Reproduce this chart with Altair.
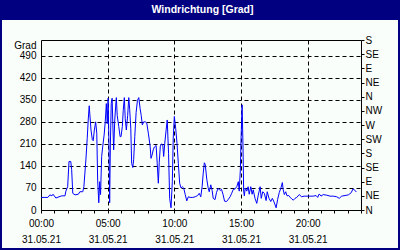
import altair as alt
import pandas as pd

# ---- data (time in minutes after midnight, direction in degrees)
minutes = [0, 14, 31, 40, 49, 54, 67, 81, 94, 108, 112, 120, 126, 134, 138, 143, 153, 168, 175, 188,
           193, 202, 208, 213, 217, 220, 225, 231, 235, 240, 246, 251, 255, 260, 264, 268, 273, 278, 284, 289,
           294, 298, 302, 306, 309, 312, 316, 320, 324, 327, 332, 336, 339, 343, 350, 356, 360, 366, 370, 375,
           379, 384, 390, 395, 399, 404, 408, 413, 417, 422, 428, 434, 440, 446, 451, 456, 462, 469, 476, 483,
           491, 495, 500, 505, 510, 518, 523, 528, 532, 537, 543, 548, 552, 557, 563, 568, 574, 579, 585, 591,
           595, 600, 606, 612, 618, 624, 630, 636, 642, 649, 656, 663, 671, 683, 694, 705, 712, 719, 725, 730,
           735, 739, 746, 752, 757, 764, 770, 775, 783, 790, 797, 806, 812, 819, 826, 835, 843, 851, 858, 865,
           873, 881, 888, 892, 897, 900, 905, 909, 912, 915, 919, 926, 932, 937, 944, 950, 955, 963, 971, 977,
           986, 991, 998, 1005, 1013, 1018, 1026, 1034, 1041, 1049, 1058, 1065, 1072, 1080, 1086, 1090, 1095, 1101, 1107, 1115,
           1121, 1128, 1135, 1143, 1151, 1162, 1173, 1184, 1203, 1225, 1238, 1245, 1252, 1260, 1270, 1286, 1301, 1315, 1331, 1342,
           1353, 1368, 1383, 1396, 1404, 1412, 1419]
degrees = [40, 40, 40, 48, 45, 50, 38, 42, 45, 45, 60, 74, 154, 154, 128, 53, 48, 50, 58, 58,
           74, 159, 228, 292, 331, 302, 254, 223, 220, 254, 280, 244, 95, 23, 90, 49, 170, 203, 238, 280,
           338, 274, 355, 200, 23, 200, 338, 355, 254, 191, 286, 330, 357, 300, 265, 233, 233, 265, 316, 357,
           290, 254, 300, 357, 320, 260, 148, 135, 160, 233, 310, 348, 357, 322, 300, 270, 280, 280, 276, 244,
           203, 164, 175, 191, 200, 205, 148, 85, 150, 203, 210, 207, 170, 212, 254, 286, 180, 37, 7, 90,
           228, 297, 260, 212, 148, 85, 70, 74, 70, 49, 29, 42, 40, 40, 42, 46, 53, 42, 74, 117,
           150, 145, 98, 71, 58, 80, 62, 37, 33, 56, 69, 62, 66, 50, 28, 27, 34, 42, 53, 65,
           67, 74, 90, 60, 127, 222, 334, 200, 60, 45, 70, 60, 74, 50, 74, 50, 64, 37, 21, 45,
           74, 37, 58, 53, 30, 58, 37, 27, 37, 25, 7, 34, 55, 71, 87, 64, 49, 58, 45, 46,
           40, 36, 31, 37, 40, 49, 42, 44, 44, 44, 46, 40, 51, 44, 49, 47, 44, 44, 42, 37,
           44, 46, 48, 55, 67, 63, 57]

hour_ticks = list(range(0, 25))
left_ticks = [0, 70, 140, 210, 280, 350, 420, 490]
right_ticks = [0, 45, 90, 135, 180, 225, 270, 315, 360, 405, 450, 495, 540]
right_labels = ["N", "NE", "E", "SE", "S", "SW", "W", "NW", "N", "NE", "E", "SE", "S"]
date_label = "31.05.21"
title_text = "Windrichtung [Grad]"
y_title = "Grad"

df = pd.DataFrame({"h": [m / 60 for m in minutes], "deg": degrees})
one = pd.DataFrame({"k": [0]})

FONT = "Liberation Sans"
NAVY = "#000080"
W, H = 320, 170

xscale = alt.Scale(domain=[0, 24], nice=False, zero=False)
yscale = alt.Scale(domain=[0, 540], nice=False)

x_label_expr = (
    "datum.value % 5 === 0 && datum.value < 24 ? "
    "[(datum.value < 10 ? '0' : '') + datum.value + ':00', '" + date_label + "'] : ''"
)
x_axis = alt.Axis(
    values=hour_ticks, labelExpr=x_label_expr, title=None,
    domain=False, ticks=True, tickSize=3, tickColor="black",
    labelPadding=5, labelLineHeight=16, labelFont=FONT, labelFontSize=10,
    labelColor="black", labelAngle=0, labelOverlap=False, labelFlush=False,
    grid=True, gridColor="black", gridDash=[4, 3], gridWidth=1,
    gridOpacity={"condition": {"test": "datum.value % 5 === 0 && datum.value > 0 && datum.value < 24",
                               "value": 1}, "value": 0},
)

left_axis = alt.Axis(
    values=left_ticks, title=y_title, titleAngle=0, titleAlign="right", titleBaseline="middle",
    titleX=-5, titleY=5, titleFont=FONT, titleFontSize=10, titleFontWeight="normal", titleColor="black",
    domain=False, ticks=False, tickSize=0, labelPadding=5, labelFont=FONT, labelFontSize=10,
    labelColor="black", labelOverlap=False, labelFlush=False,
    grid=True, gridColor="black", gridDash=[4, 3], gridWidth=1,
)

right_expr = "[" + ",".join("'" + s + "'" for s in right_labels) + "][round(datum.value / 45)]"
right_axis = alt.Axis(
    orient="right", values=right_ticks, labelExpr=right_expr, title=None,
    domain=False, ticks=True, tickSize=3, tickColor="black", labelPadding=1,
    labelFont=FONT, labelFontSize=10, labelColor="black", labelOverlap=False, labelFlush=False,
    grid=False,
)

line = alt.Chart(df).mark_line(color="#0000FF", strokeWidth=1).encode(
    x=alt.X("h:Q", scale=xscale, axis=x_axis),
    y=alt.Y("deg:Q", scale=yscale, axis=left_axis),
)

line_right = alt.Chart(df).mark_line(strokeOpacity=0).encode(
    x=alt.X("h:Q", scale=xscale, axis=x_axis),
    y=alt.Y("deg:Q", scale=yscale, axis=right_axis),
)

title_bar = alt.Chart(one).mark_rect(color=NAVY).encode(
    x=alt.value(-41), x2=alt.value(359), y=alt.value(-40), y2=alt.value(-20)
)
border = alt.Chart(one).mark_rect(filled=False, stroke=NAVY, strokeWidth=2).encode(
    x=alt.value(-40), x2=alt.value(358), y=alt.value(-39), y2=alt.value(209)
)
title = alt.Chart(one).mark_text(
    text=title_text, font=FONT, fontSize=10.5, fontWeight="bold", color="white",
    align="center", baseline="alphabetic"
).encode(x=alt.value(161.5), y=alt.value(-27.5))

chart = (
    alt.layer(line, line_right, title_bar, border, title)
    .resolve_scale(y="independent")
    .properties(
        width=W, height=H,
        autosize=alt.AutoSizeParams(type="none"),
        padding={"left": 41, "top": 40, "right": 39, "bottom": 40},
        background="#FAFEFA",
    )
    .configure_view(stroke="black", strokeWidth=1)
)

chart.save("out.html", embed_options={"renderer": "svg", "actions": False})
